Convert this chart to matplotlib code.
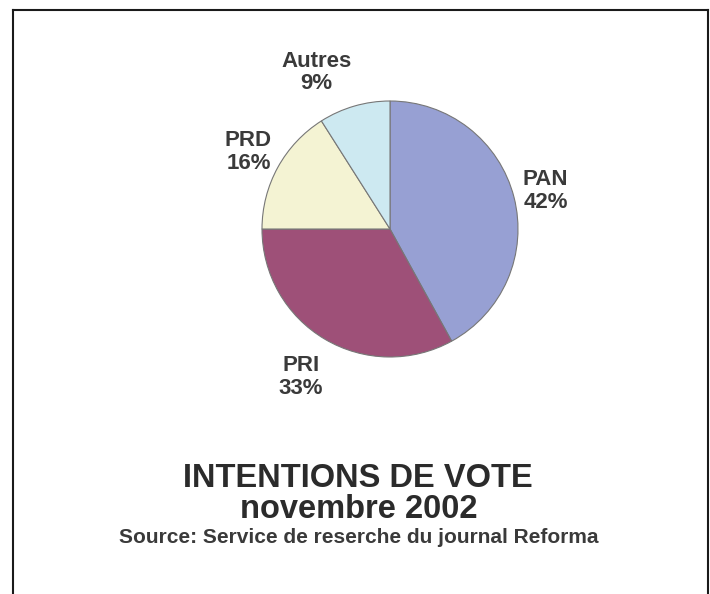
import numpy as np
import matplotlib.pyplot as plt
from matplotlib.lines import Line2D

plt.rcParams['font.family'] = ['Liberation Sans', 'DejaVu Sans']

# Data
parties = ["PAN", "PRI", "PRD", "Autres"]
shares = [42, 33, 16, 9]
slice_colors = ["#97a0d3", "#9e5078", "#f4f3d3", "#cde9f1"]

title = "INTENTIONS DE VOTE"
subtitle = "novembre 2002"
source = "Source: Service de reserche du journal Reforma"

# label placement: distance (in radii) and angle nudge (deg) per slice
label_dist = [1.25, 1.35, 1.26, 1.35]
label_shift = [-0.6, -0.4, 0.2, 9.0]

W, H = 710, 594
fig = plt.figure(figsize=(W / 100, H / 100), dpi=100)
fig.patch.set_facecolor("white")

# pie axes: centre (390, 229) px, radius 128 px
R = 128
half = 1.5 * R
cx, cy = 390, H - 229
ax = fig.add_axes([(cx - half) / W, (cy - half) / H, 2 * half / W, 2 * half / H])

wedges, _ = ax.pie(shares, colors=slice_colors, startangle=90, counterclock=False,
                   wedgeprops=dict(edgecolor="#777777", linewidth=0.8))

for w, p, s, d, sh in zip(wedges, parties, shares, label_dist, label_shift):
    ang = np.deg2rad((w.theta1 + w.theta2) / 2 + sh)
    ax.text(d * np.cos(ang), d * np.sin(ang), f"{p}\n{s}%", ha="center", va="center",
            fontsize=16, fontweight="bold", color="#3a3a3a", linespacing=1.1)

ax.set_xlim(-1.5, 1.5)
ax.set_ylim(-1.5, 1.5)
ax.set_aspect("equal")
ax.axis("off")

# Titles
fig.text(358 / W, 1 - 487 / H, title, ha="center", va="baseline",
         fontsize=23.5, fontweight="bold", color="#2b2b2b")
fig.text(359 / W, 1 - 518 / H, subtitle, ha="center", va="baseline",
         fontsize=23.5, fontweight="bold", color="#2b2b2b")
fig.text(359 / W, 1 - 543 / H, source, ha="center", va="baseline",
         fontsize=15, fontweight="bold", color="#3a3a3a")

# Frame (open at the bottom)
xl, xr, yt = 13 / W, 708 / W, 1 - 10 / H
for xs, ys in [([xl, xl], [0, yt]), ([xl, xr], [yt, yt]), ([xr, xr], [yt, 0])]:
    fig.add_artist(Line2D(xs, ys, color="#1a1a1a", linewidth=1.5))

fig.savefig("out.png", dpi=100)
